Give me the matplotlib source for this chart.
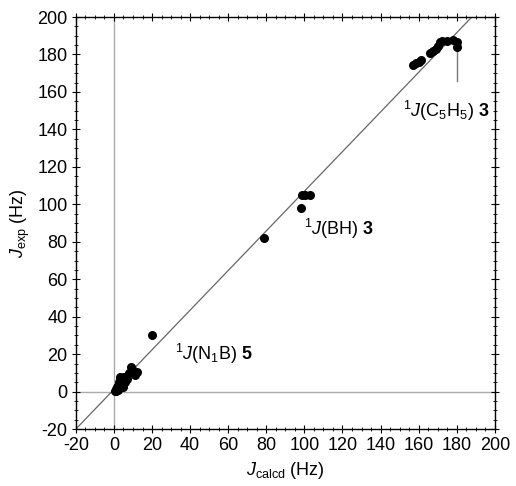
import matplotlib
matplotlib.use("Agg")
import matplotlib.pyplot as plt
from matplotlib.ticker import MultipleLocator

plt.rcParams["font.family"] = ["Liberation Sans", "DejaVu Sans"]
plt.rcParams["mathtext.fontset"] = "custom"
plt.rcParams["mathtext.rm"] = "Liberation Sans"
plt.rcParams["mathtext.it"] = "Liberation Sans:italic"
plt.rcParams["mathtext.bf"] = "Liberation Sans:bold"
plt.rcParams["axes.unicode_minus"] = False

# calculated vs experimental couplings (Hz)
j_calcd = [0.5, 1.0, 1.5, 2.0, 2.5, 3.0, 3.0, 3.5, 4.0, 4.5, 5.0, 5.5, 6.0, 7.0,
           8.0, 9.0, 9.5, 10.0, 11.0, 12.0, 1.0, 2.0, 20.0,
           79.0, 98.0, 99.0, 100.5, 103.0,
           157.0, 158.5, 160.0, 161.0, 166.0, 167.5, 169.0, 170.0, 171.0,
           172.0, 175.0, 178.0, 180.0, 180.0]
j_exp = [0.5, 1.5, 2.5, 3.0, 5.0, 7.0, 8.0, 4.0, 6.0, 7.5, 2.5, 8.0, 5.0, 7.0,
         10.0, 13.0, 12.0, 11.0, 9.0, 10.5, 0.5, 1.0, 30.5,
         82.0, 98.0, 105.0, 105.0, 105.0,
         174.5, 175.5, 176.0, 177.0, 181.0, 182.0, 183.0, 184.5, 186.5,
         187.0, 187.0, 187.5, 186.5, 184.0]

fit_x = [-20, 200]
fit_slope = 1.058
fit_icpt = 1.2

fig = plt.figure(figsize=(5.16, 4.86), dpi=100)
ax = fig.add_axes([0.147, 0.117, 0.812, 0.848])

ax.axhline(0, color="#aaaaaa", lw=1.0, zorder=1)
ax.axvline(0, color="#aaaaaa", lw=1.0, zorder=1)
ax.plot(fit_x, [fit_slope * x + fit_icpt for x in fit_x], color="#666666", lw=0.9, zorder=2)
ax.scatter(j_calcd, j_exp, s=30, color="black", zorder=3)

# pointer to C5H5 cluster
ax.plot([180, 180], [182, 166], color="#777777", lw=1.0)

ax.text(32, 20, r"$^1J$(N$_1$B) $\mathbf{5}$", fontsize=13, va="center")
ax.text(100, 87, r"$^1J$(BH) $\mathbf{3}$", fontsize=13, va="center")
ax.text(152, 150, r"$^1J$(C$_5$H$_5$) $\mathbf{3}$", fontsize=13, va="center")

ax.set_xlim(-20, 200)
ax.set_ylim(-20, 200)
ax.xaxis.set_major_locator(MultipleLocator(20))
ax.yaxis.set_major_locator(MultipleLocator(20))
ax.xaxis.set_minor_locator(MultipleLocator(5))
ax.yaxis.set_minor_locator(MultipleLocator(5))
ax.tick_params(which="both", direction="inout", top=True, right=True, labelsize=13)
ax.tick_params(which="major", length=6, pad=3)
ax.tick_params(which="minor", length=3)
for s in ax.spines.values():
    s.set_linewidth(1.0)

ax.set_xlabel(r"$J_{\rm calcd}$ (Hz)", fontsize=13, labelpad=4)
ax.set_ylabel(r"$J_{\rm exp}$ (Hz)", fontsize=13, labelpad=4)

fig.savefig("out.png", dpi=100)
